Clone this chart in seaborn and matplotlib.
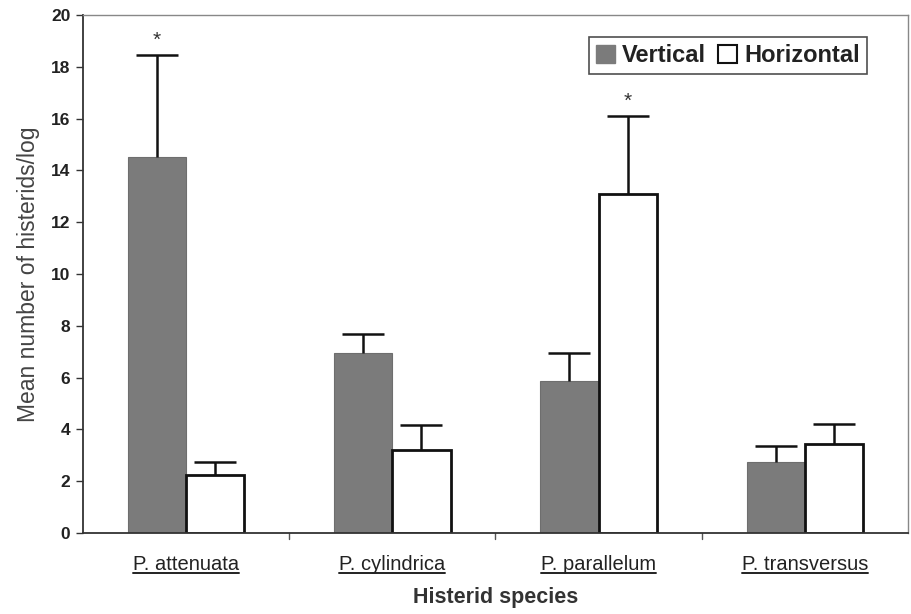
import numpy as np
import pandas as pd
import matplotlib
matplotlib.use("Agg")
import matplotlib.pyplot as plt
import seaborn as sns
from matplotlib import font_manager
from matplotlib.patches import Patch
from matplotlib.lines import Line2D

species = ["P. attenuata", "P. cylindrica", "P. parallelum", "P. transversus"]
vertical_mean = [14.5, 6.95, 5.85, 2.75]
horizontal_mean = [2.25, 3.2, 13.1, 3.45]
vertical_err = [3.95, 0.75, 1.1, 0.6]
horizontal_err = [0.5, 0.95, 3.0, 0.75]
significant_vertical = [True, False, False, False]
significant_horizontal = [False, False, True, False]
yticks = [0, 2, 4, 6, 8, 10, 12, 14, 16, 18, 20]

sns.set_theme(style="white")
names = {f.name for f in font_manager.fontManager.ttflist}
narrow = "Liberation Sans Narrow" if "Liberation Sans Narrow" in names else "Liberation Sans"
plt.rcParams["font.family"] = ["Liberation Sans", "DejaVu Sans"]

df = pd.DataFrame({
    "species": species * 2,
    "orientation": ["Vertical"] * 4 + ["Horizontal"] * 4,
    "mean": vertical_mean + horizontal_mean,
})

fig = plt.figure(figsize=(9.12, 6.14), dpi=100)
ax = fig.add_axes([0.091, 0.132, 0.9045, 0.8436])

sns.barplot(data=df, x="species", y="mean", hue="orientation",
            palette={"Vertical": "#7b7b7b", "Horizontal": "white"},
            width=0.565, errorbar=None, ax=ax, legend=False, saturation=1)

for p in ax.containers[0]:
    p.set_edgecolor("#6e6e6e"); p.set_linewidth(0.8)
for p in ax.containers[1]:
    p.set_edgecolor("#111111"); p.set_linewidth(2.0)

for cont, errs, sig in [(ax.containers[0], vertical_err, significant_vertical),
                         (ax.containers[1], horizontal_err, significant_horizontal)]:
    xs = [p.get_x() + p.get_width() / 2 for p in cont]
    ys = [p.get_height() for p in cont]
    eb = ax.errorbar(xs, ys, yerr=[np.zeros(len(errs)), errs], fmt="none",
                     ecolor="#111111", elinewidth=1.8, capsize=15, capthick=1.8, zorder=3)
    eb[1][0].set_visible(False)
    for x, y, e, s in zip(xs, ys, errs, sig):
        if s:
            ax.annotate("*", (x, y + e), xytext=(0, 4), textcoords="offset points",
                        ha="center", va="bottom", fontsize=15, color="#333333")

ax.set_xlim(-0.5, 3.5)
ax.set_ylim(0, 20)
ax.set_yticks(yticks)
ax.set_yticklabels([str(t) for t in yticks], fontsize=12.5, fontweight="bold", color="#222222")
ax.set_xticks(range(4))
ax.set_xticklabels(species, fontsize=14.5, family=narrow, color="#222222")
ax.tick_params(axis="x", length=0, pad=16)
ax.tick_params(axis="y", left=True, length=5, width=1, color="#333333", direction="out", pad=4)
for b in [0.5, 1.5, 2.5]:
    ax.plot([b, b], [0, -0.25], color="#555555", lw=1, clip_on=False, transform=ax.transData)

for side in ["left", "bottom"]:
    ax.spines[side].set_color("#333333"); ax.spines[side].set_linewidth(1.3)
for side in ["top", "right"]:
    ax.spines[side].set_color("#888888"); ax.spines[side].set_linewidth(1.0)

ax.set_xlabel("Histerid species", fontsize=15.5, fontweight="bold", family=narrow,
              color="#333333", labelpad=9)
ax.set_ylabel("Mean number of histerids/log", fontsize=16.5,
              color="#444444", labelpad=8)

handles = [Patch(facecolor="#7b7b7b", edgecolor="#7b7b7b", label="Vertical"),
           Patch(facecolor="white", edgecolor="#111111", linewidth=1.5, label="Horizontal")]
leg = ax.legend(handles=handles, loc="upper right", bbox_to_anchor=(0.950, 0.957), ncol=2,
                prop={"size": 17, "weight": "bold"}, frameon=True, fancybox=False,
                edgecolor="#222222", handlelength=0.8, handleheight=0.8,
                handletextpad=0.3, columnspacing=0.5, borderpad=0.3, borderaxespad=0)
leg.get_frame().set_linewidth(1.2)
for t in leg.get_texts():
    t.set_color("#222222")

fig.canvas.draw()
renderer = fig.canvas.get_renderer()
inv = fig.transFigure.inverted()
for lab in ax.get_xticklabels():
    bb = lab.get_window_extent(renderer)
    (x0, y0), (x1, y1) = inv.transform([[bb.x0, bb.y0], [bb.x1, bb.y1]])
    fig.add_artist(Line2D([x0, x1], [y0 + 0.002, y0 + 0.002], color="#222222", lw=1.4,
                          transform=fig.transFigure))

fig.savefig("out.png", dpi=100)
